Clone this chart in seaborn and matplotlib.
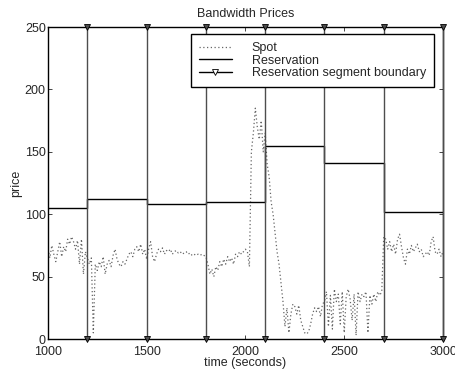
import numpy as np
import pandas as pd
import matplotlib
matplotlib.use("Agg")
import matplotlib.pyplot as plt
import seaborn as sns
from matplotlib.lines import Line2D

sns.set_style("ticks")
plt.rcParams['font.family'] = ['Liberation Sans', 'DejaVu Sans']

# ---- data ----
spot_time = list(range(1000, 3001, 10))
spot_1000_1200 = [72, 65, 75, 68, 62, 70, 78, 66, 74, 70, 80, 76, 82, 78, 72, 79, 60, 80, 52, 70, 65]
spot_1200_1500 = [60, 65, 5, 60, 55, 62, 58, 66, 52, 60, 63, 58, 67, 72, 64, 60, 58, 62, 60, 64,
                  68, 70, 66, 72, 74, 70, 76, 68, 72, 64]
spot_1500_1800 = [72, 78, 66, 62, 68, 72, 70, 73, 68, 71, 70, 72, 68, 70, 71, 69, 70, 68, 69, 70,
                  68, 69, 67, 68, 67, 68, 67, 68, 67, 66]
spot_1800_2100 = [60, 52, 56, 50, 58, 55, 62, 58, 64, 60, 66, 62, 65, 60, 68, 66, 70, 68, 70, 72,
                  70, 58, 150, 165, 185, 170, 160, 175, 150, 165]
spot_2100_2400 = [140, 130, 110, 100, 85, 70, 60, 45, 30, 10, 25, 5, 20, 28, 26, 20, 27, 15, 10, 5,
                  4, 6, 12, 20, 25, 22, 26, 18, 28, 30]
spot_2400_2700 = [38, 10, 35, 8, 40, 30, 36, 12, 38, 5, 34, 40, 32, 15, 36, 3, 38, 30, 36, 34,
                  38, 5, 35, 28, 36, 30, 38, 35, 38, 82]
spot_2700_3000 = [80, 72, 78, 70, 76, 68, 80, 84, 74, 65, 60, 72, 68, 75, 70, 73, 76, 70, 72, 66,
                  68, 70, 67, 78, 82, 70, 68, 72, 66, 70]
spot_price = (spot_1000_1200 + spot_1200_1500 + spot_1500_1800 + spot_1800_2100
              + spot_2100_2400 + spot_2400_2700 + spot_2700_3000)

res_start = [1000, 1200, 1500, 1800, 2100, 2400, 2700, 3000]
res_price = [105, 112, 108, 110, 155, 141, 102, 102]
boundaries = [1200, 1500, 1800, 2100, 2400, 2700, 3000]

x_ticks = [1000, 1500, 2000, 2500, 3000]
y_ticks = [0, 50, 100, 150, 200, 250]

spot_df = pd.DataFrame({"time": spot_time, "price": spot_price})
res_df = pd.DataFrame({"time": res_start, "price": res_price})

# ---- figure ----
fig = plt.figure(figsize=(4.56, 3.73), dpi=100)
ax = fig.add_axes([0.105, 0.091, 0.8665, 0.8365])

sns.lineplot(data=spot_df, x="time", y="price", ax=ax, color="0.4",
             linestyle=(0, (1, 2)), linewidth=0.9, estimator=None)
sns.lineplot(data=res_df, x="time", y="price", ax=ax, color="black",
             linewidth=1.0, drawstyle="steps-post", estimator=None)
for b in boundaries:
    ax.plot([b, b], [0, 250], color="0.3", linewidth=1.0, marker="v",
            markersize=4, markerfacecolor="0.3", markeredgecolor="black",
            markeredgewidth=0.6, clip_on=False, zorder=3)

ax.set_xlim(1000, 3000)
ax.set_ylim(0, 250)
ax.set_xticks(x_ticks)
ax.set_yticks(y_ticks)
ax.tick_params(direction="in", top=True, right=True, labelsize=9, length=3,
               width=0.6)
ax.tick_params(axis="x", pad=5)
ax.tick_params(axis="y", pad=1.5)
for s in ax.spines.values():
    s.set_linewidth(1.0)
    s.set_color("black")
ax.set_title("Bandwidth Prices", fontsize=9, pad=7)
ax.set_xlabel("time (seconds)", fontsize=9, labelpad=-1)
ax.set_ylabel("price", fontsize=9, labelpad=2)

handles = [
    Line2D([], [], color="0.4", linestyle=(0, (1, 2)), linewidth=0.9),
    Line2D([], [], color="black", linewidth=1.0),
    Line2D([], [], color="black", linewidth=1.0, marker="v", markersize=4,
           markerfacecolor="white", markeredgecolor="black", markeredgewidth=0.6),
]
labels = ["Spot", "Reservation", "Reservation segment boundary"]
leg = ax.legend(handles, labels, loc="upper right", bbox_to_anchor=(0.977, 0.978),
                fontsize=9, frameon=True, fancybox=False, borderpad=0.65,
                labelspacing=0.05, handlelength=2.6, handletextpad=1.6,
                borderaxespad=0.0)
leg.get_frame().set_edgecolor("black")
leg.get_frame().set_linewidth(1.0)
leg.get_frame().set_alpha(1)

fig.savefig("out.png", dpi=100)
